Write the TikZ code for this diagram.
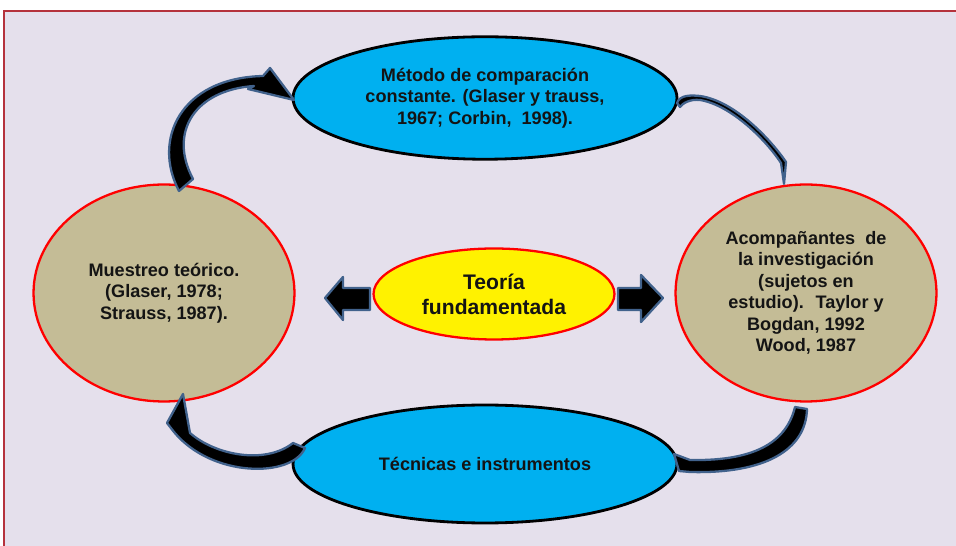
\documentclass[tikz,border=0pt]{standalone}
\usepackage{fontspec}
\setmainfont{Liberation Sans}
\usetikzlibrary{shapes.geometric}
\definecolor{fondo}{HTML}{E5E0EC}
\definecolor{marco}{HTML}{B5323C}
\definecolor{azul}{HTML}{00B0F0}
\definecolor{arena}{HTML}{C4BC96}
\definecolor{brillo}{HTML}{41628C}
\definecolor{letra}{HTML}{141414}
\begin{document}
\begin{tikzpicture}[x=0.02cm,y=-0.02cm,
  elipse/.style={ellipse, inner sep=0pt, align=center, text=letra,
    font=\bfseries\fontsize{10.3}{12.2}\selectfont},
  azulel/.style={elipse, fill=azul, draw=black, line width=1.6pt,
    minimum width=7.68cm, minimum height=2.45cm},
  arenael/.style={elipse, fill=arena, draw=red, line width=1.3pt,
    minimum width=5.22cm, minimum height=4.34cm},
  flecha/.style={fill=black, draw=brillo, line width=1.3pt, line join=round}]
\useasboundingbox (0,0) rectangle (956,546);
\fill[fondo] (4,11) rectangle (956,546);
\draw[marco, line width=0.6pt] (4,546) -- (4,11) -- (956,11);
% ellipses
\node[azulel] (metodo) at (485,98) {M\'etodo de comparaci\'on\\constante. (Glaser y trauss,\\1967; Corbin, \ 1998).};
\node[azulel, minimum height=2.36cm] (tecnicas) at (485,464) {T\'ecnicas e instrumentos};
\node[arenael] (muestreo) at (164,293) {Muestreo te\'orico.\\(Glaser, 1978;\\Strauss, 1987).};
\node[arenael] (acomp) at (806,293) {Acompa\~nantes \ de\\la investigaci\'on\\(sujetos en\\estudio). \ Taylor y\\Bogdan, 1992\\Wood, 1987};
\node[elipse, fill=yellow, draw=red, line width=1.3pt, minimum width=4.82cm, minimum height=1.82cm,
  font=\bfseries\fontsize{12}{14.2}\selectfont] (teoria) at (494,294) {Teor\'ia\\fundamentada};
% block arrows beside the centre
\draw[flecha] (325,298) -- (343,277) -- (343,288) -- (370,288) -- (370,310) -- (343,310) -- (343,320) -- cycle;
\draw[flecha] (663,298) -- (641,275) -- (641,288) -- (618,288) -- (618,310) -- (641,310) -- (641,322) -- cycle;
% curved arrows round the cycle
\draw[flecha] (179,191) .. controls (152,140) and (180,78) .. (263,76) -- (270,68) -- (294,100) -- (248,89) -- (254,86) .. controls (195,90) and (168,132) .. (193,179) -- cycle;
\draw[flecha] (677,103) .. controls (680,95) and (690,95) .. (700,96) .. controls (735,101) and (771,140) .. (786,162) -- (784,184) -- (781,163) .. controls (766,140) and (731,105) .. (700,100) .. controls (690,99) and (683,103) .. (680,107) -- cycle;
\draw[flecha] (807,409) .. controls (806,450) and (765,474) .. (690,472) -- (679,471) -- (674,454) -- (690,460) .. controls (745,461) and (785,448) .. (795,407) -- cycle;
\draw[flecha] (183,394) -- (190,433) .. controls (215,455) and (265,465) .. (293,443) -- (305,448) .. controls (292,478) and (212,478) .. (174,432) -- (167,423) -- cycle;
\end{tikzpicture}
\end{document}
